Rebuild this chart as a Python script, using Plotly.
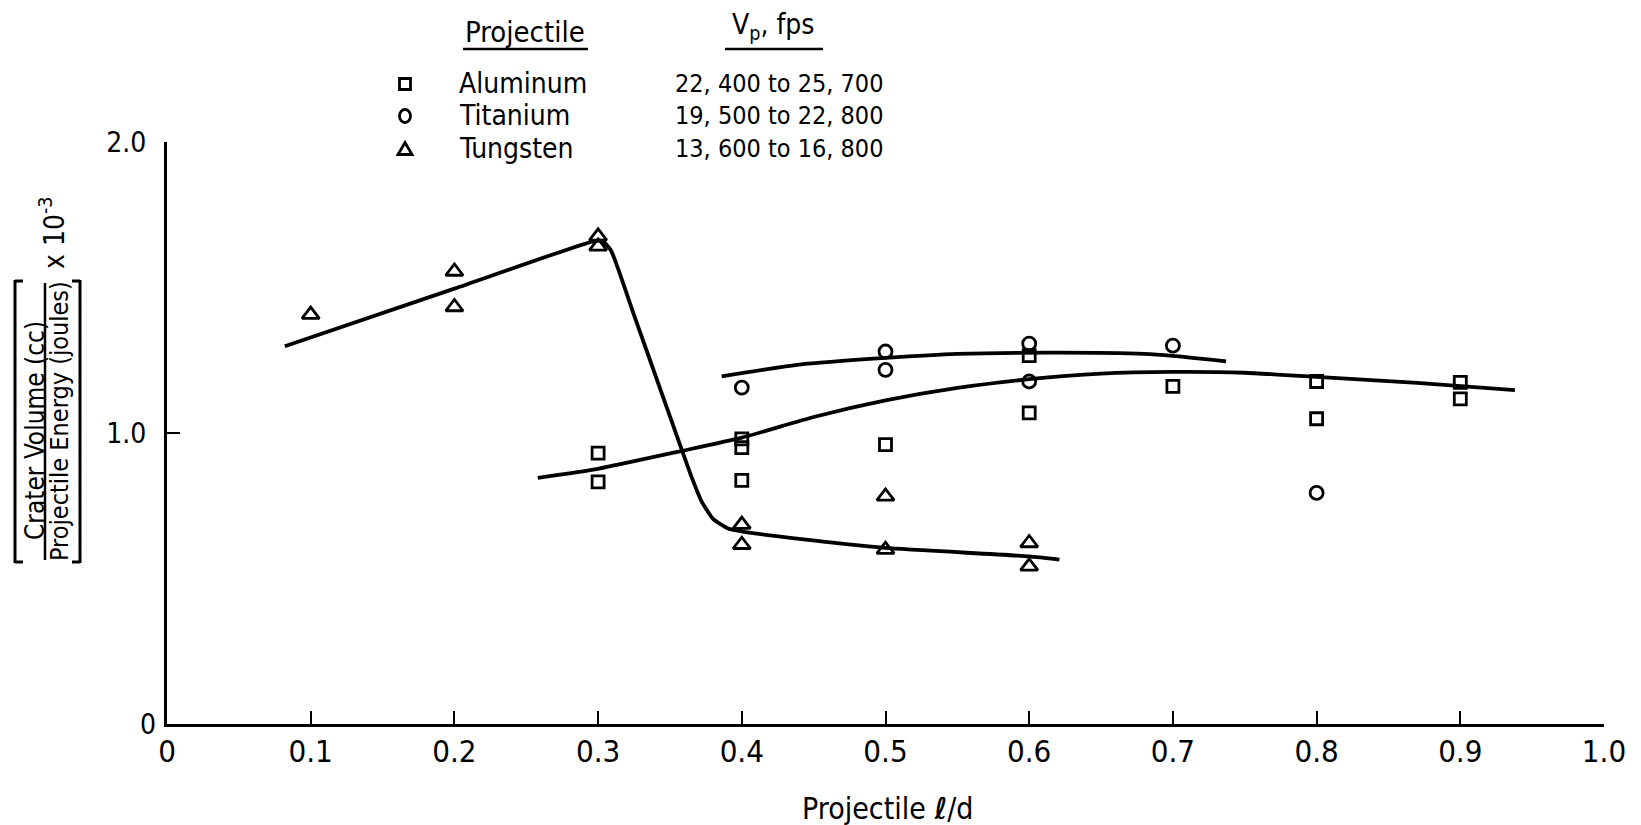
import plotly.graph_objects as go

# ---------------- data ----------------
al_x = [0.3, 0.3, 0.4, 0.4, 0.4, 0.5, 0.6, 0.6, 0.7, 0.8, 0.8, 0.9, 0.9]
al_y = [0.931, 0.832, 0.980, 0.950, 0.837, 0.960, 1.266, 1.069, 1.160, 1.177, 1.049, 1.174, 1.117]

ti_x = [0.4, 0.5, 0.5, 0.6, 0.6, 0.7, 0.8]
ti_y = [1.156, 1.280, 1.217, 1.307, 1.177, 1.300, 0.794]

tu_x = [0.1, 0.2, 0.2, 0.3, 0.3, 0.4, 0.4, 0.5, 0.5, 0.6, 0.6]
tu_y = [1.407, 1.555, 1.433, 1.676, 1.641, 0.685, 0.616, 0.782, 0.599, 0.622, 0.542]

# faired curves
curve_tu_x = [0.082, 0.20, 0.296, 0.303, 0.309, 0.325, 0.345, 0.359, 0.365, 0.372, 0.380, 0.390, 0.400, 0.44, 0.50, 0.60, 0.621]
curve_tu_y = [1.298, 1.496, 1.658, 1.660, 1.627, 1.405, 1.127, 0.932, 0.849, 0.765, 0.705, 0.673, 0.662, 0.636, 0.605, 0.576, 0.565]

curve_low_x = [0.258, 0.30, 0.357, 0.40, 0.45, 0.50, 0.55, 0.60, 0.65, 0.70, 0.75, 0.80, 0.87, 0.938]
curve_low_y = [0.846, 0.877, 0.937, 0.984, 1.055, 1.112, 1.155, 1.185, 1.204, 1.210, 1.207, 1.193, 1.172, 1.147]

curve_up_x = [0.386, 0.44, 0.50, 0.55, 0.62, 0.68, 0.70, 0.737]
curve_up_y = [1.195, 1.235, 1.258, 1.272, 1.276, 1.272, 1.265, 1.246]

x_ticks = [0, 0.1, 0.2, 0.3, 0.4, 0.5, 0.6, 0.7, 0.8, 0.9, 1.0]
x_ticktext = ["0", "0.1", "0.2", "0.3", "0.4", "0.5", "0.6", "0.7", "0.8", "0.9", "1.0"]
y_ticks = [0, 1.0, 2.0]
y_ticktext = ["", "1.0", "2.0"]   # the "0" label sits closer to the axis, drawn separately
y_zero_label = "0"

legend_names = ["Aluminum", "Titanium", "Tungsten"]
legend_speeds = ["22, 400 to 25, 700", "19, 500 to 22, 800", "13, 600 to 16, 800"]

# ---------------- layout geometry ----------------
OFF = 8                      # default body margin of the html page
FW, FH = 1641 - OFF, 825 - OFF
L, T = 159, 134
PW, PH = 1437, 582
R, B = FW - L - PW, FH - T - PH
FONT = "DejaVu Sans Condensed"


def pxx(x):
    """page pixel x -> paper x"""
    return (x - OFF - L) / PW


def pxy(y):
    """page pixel y -> paper y"""
    return (FH - B - (y - OFF)) / PH


fig = go.Figure()

line_style = dict(color="black", width=3.8, shape="spline", smoothing=0.5)
for cx, cy in [(curve_tu_x, curve_tu_y), (curve_low_x, curve_low_y), (curve_up_x, curve_up_y)]:
    fig.add_trace(go.Scatter(x=cx, y=cy, mode="lines", line=line_style,
                             showlegend=False, hoverinfo="skip"))

marker_base = dict(color="black", line=dict(color="black", width=2.8))
fig.add_trace(go.Scatter(x=al_x, y=al_y, mode="markers", name="Aluminum", showlegend=False,
                         marker=dict(symbol="square-open", size=12, **marker_base)))
fig.add_trace(go.Scatter(x=ti_x, y=ti_y, mode="markers", name="Titanium", showlegend=False,
                         marker=dict(symbol="circle-open", size=13, **marker_base)))
fig.add_trace(go.Scatter(x=tu_x, y=tu_y, mode="markers", name="Tungsten", showlegend=False,
                         marker=dict(symbol="triangle-up-open", size=15, **marker_base)))

annotations = []


def ann(x, y, text, size, xanchor="center", angle=0):
    annotations.append(dict(x=pxx(x), y=pxy(y), text=text, showarrow=False,
                            xref="paper", yref="paper", xanchor=xanchor, yanchor="middle",
                            textangle=angle, font=dict(size=size, family=FONT, color="black")))


leg_rows_y = [84, 116, 149]
# legend headers
ann(525, 32, "Projectile", 29)
ann(773, 26, "V<sub>p</sub>, fps", 28)
for name, spd, ry in zip(legend_names, legend_speeds, leg_rows_y):
    ann(457, ry, name, 28, xanchor="left")
    ann(779, ry, spd, 25)

# y-axis label (rotated)
ann(35, 431, "Crater Volume (cc)", 26, angle=-90)
ann(59, 421, "Projectile Energy (joules)", 25, angle=-90)
ann(52, 233, "x 10<sup>-3</sup>", 28, angle=-90)
# x-axis title
ann(887, 808, "Projectile <b><i>ℓ</i></b>/d", 30)
# y tick label at zero
ann(148, 724, y_zero_label, 28)

shapes = []


def pline(x0, y0, x1, y1, w=2.5):
    shapes.append(dict(type="line", xref="paper", yref="paper", x0=pxx(x0), y0=pxy(y0),
                       x1=pxx(x1), y1=pxy(y1), line=dict(color="black", width=w)))


# legend header underlines
pline(463, 49, 588, 49)
pline(725, 49, 823, 49)
# fraction bar
pline(45, 283, 45, 560)
# brackets
pline(15, 280, 15, 563, 3)
pline(15, 281, 23, 281, 3)
pline(15, 562, 23, 562, 3)
pline(80, 280, 80, 563, 3)
pline(80, 281, 72, 281, 3)
pline(80, 562, 72, 562, 3)

# legend key symbols
kx = 405
key_line = dict(color="black", width=2.8)
shapes.append(dict(type="rect", xref="paper", yref="paper",
                   x0=pxx(kx - 5.5), x1=pxx(kx + 5.5), y0=pxy(leg_rows_y[0] - 5.5), y1=pxy(leg_rows_y[0] + 5.5),
                   line=key_line))
shapes.append(dict(type="circle", xref="paper", yref="paper",
                   x0=pxx(kx - 5.5), x1=pxx(kx + 5.5), y0=pxy(leg_rows_y[1] - 6.5), y1=pxy(leg_rows_y[1] + 6.5),
                   line=key_line))
ty = leg_rows_y[2]
shapes.append(dict(type="path", xref="paper", yref="paper",
                   path="M {a} {b} L {c} {b} L {d} {e} Z".format(
                       a=pxx(kx - 7), b=pxy(ty + 5.5), c=pxx(kx + 7), d=pxx(kx), e=pxy(ty - 6.5)),
                   line=key_line))

fig.update_layout(
    width=FW, height=FH,
    margin=dict(l=L, r=R, t=T, b=B, pad=0),
    paper_bgcolor="white", plot_bgcolor="white",
    font=dict(family=FONT, color="black", size=28),
    showlegend=False,
    annotations=annotations,
    shapes=shapes,
)
fig.update_xaxes(range=[0, 1.0], tickvals=x_ticks, ticktext=x_ticktext, ticks="inside",
                 ticklen=13, tickwidth=2, tickcolor="black", showline=True, linewidth=3,
                 linecolor="black", showgrid=False, zeroline=False,
                 tickfont=dict(size=31, family=FONT), ticklabelstandoff=-2)
fig.update_yaxes(range=[0, 2.0], tickvals=y_ticks, ticktext=y_ticktext, ticks="inside",
                 ticklen=13, tickwidth=2, tickcolor="black", showline=True, linewidth=3,
                 linecolor="black", showgrid=False, zeroline=False,
                 tickfont=dict(size=28, family=FONT), ticklabelstandoff=12)

fig.write_html("out.html")
